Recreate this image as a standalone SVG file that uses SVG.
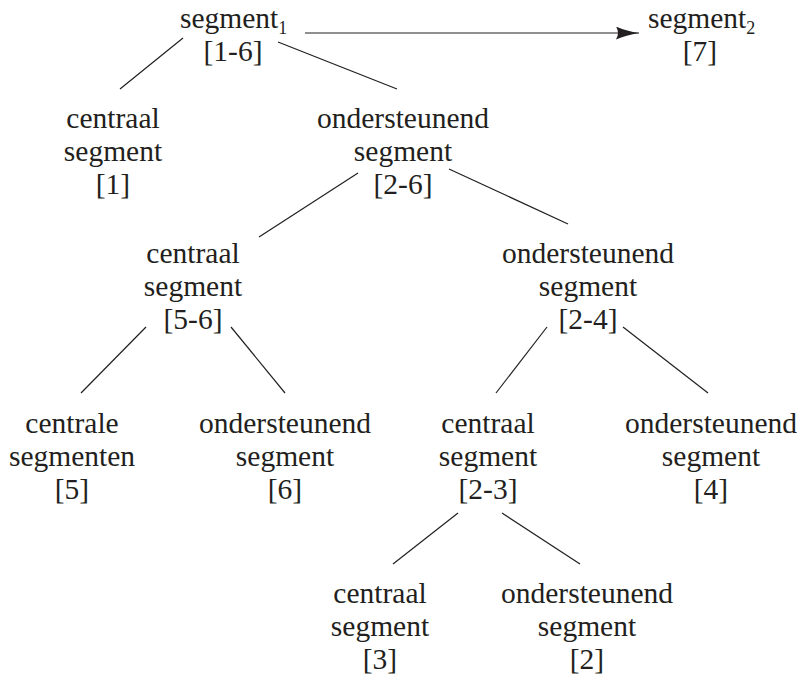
<svg xmlns="http://www.w3.org/2000/svg" width="803" height="676" viewBox="0 0 803 676">
<style>
  text { font-family: "Liberation Serif", "Times New Roman", serif; font-size: 29.5px; fill: #231f20; text-anchor: middle; }
  .sub { font-size: 18px; }
  .edge { stroke: #231f20; stroke-width: 1.2; fill: none; }
</style>
<defs>
  <marker id="arrow" markerUnits="userSpaceOnUse" markerWidth="23" markerHeight="13" viewBox="0 0 23 13" refX="23" refY="6.5" orient="auto">
    <path d="M0,0 Q10,4.5 23,6.5 Q10,8.5 0,13 Q4,6.5 0,0 Z" fill="#231f20"/>
  </marker>
</defs>
<rect width="803" height="676" fill="#ffffff"/>
<g id="connectors">
  <line class="edge" x1="305" y1="33" x2="639" y2="33" marker-end="url(#arrow)"/>
  <line class="edge" x1="183" y1="38" x2="120" y2="89"/>
  <line class="edge" x1="278" y1="42" x2="397" y2="89"/>
  <line class="edge" x1="358" y1="173" x2="259" y2="237"/>
  <line class="edge" x1="449" y1="169" x2="568" y2="224"/>
  <line class="edge" x1="146" y1="327" x2="81" y2="393"/>
  <line class="edge" x1="231" y1="327" x2="285" y2="393"/>
  <line class="edge" x1="547" y1="327" x2="496" y2="393"/>
  <line class="edge" x1="623" y1="327" x2="708" y2="393"/>
  <line class="edge" x1="458" y1="513" x2="393" y2="564"/>
  <line class="edge" x1="502" y1="513" x2="580" y2="564"/>
</g>
<g id="seg1">
  <text x="180" y="28" style="text-anchor:start">segment<tspan class="sub" dy="6">1</tspan></text>
  <text x="233" y="61">[1-6]</text>
</g>
<g id="seg2">
  <text x="648" y="28" style="text-anchor:start">segment<tspan class="sub" dy="6">2</tspan></text>
  <text x="700" y="61">[7]</text>
</g>
<g id="c1">
  <text x="113" y="128">centraal</text>
  <text x="113" y="161">segment</text>
  <text x="113" y="194">[1]</text>
</g>
<g id="o26">
  <text x="403" y="128">ondersteunend</text>
  <text x="403" y="161">segment</text>
  <text x="403" y="194">[2-6]</text>
</g>
<g id="c56">
  <text x="193" y="263">centraal</text>
  <text x="193" y="296">segment</text>
  <text x="193" y="329">[5-6]</text>
</g>
<g id="o24">
  <text x="588" y="263">ondersteunend</text>
  <text x="588" y="296">segment</text>
  <text x="588" y="329">[2-4]</text>
</g>
<g id="c5">
  <text x="72" y="433">centrale</text>
  <text x="72" y="466">segmenten</text>
  <text x="72" y="499">[5]</text>
</g>
<g id="o6">
  <text x="285" y="433">ondersteunend</text>
  <text x="285" y="466">segment</text>
  <text x="285" y="499">[6]</text>
</g>
<g id="c23">
  <text x="488" y="433">centraal</text>
  <text x="488" y="466">segment</text>
  <text x="488" y="499">[2-3]</text>
</g>
<g id="o4">
  <text x="711" y="433">ondersteunend</text>
  <text x="711" y="466">segment</text>
  <text x="711" y="499">[4]</text>
</g>
<g id="c3">
  <text x="380" y="603">centraal</text>
  <text x="380" y="636">segment</text>
  <text x="380" y="669">[3]</text>
</g>
<g id="o2">
  <text x="587" y="603">ondersteunend</text>
  <text x="587" y="636">segment</text>
  <text x="587" y="669">[2]</text>
</g>
</svg>
